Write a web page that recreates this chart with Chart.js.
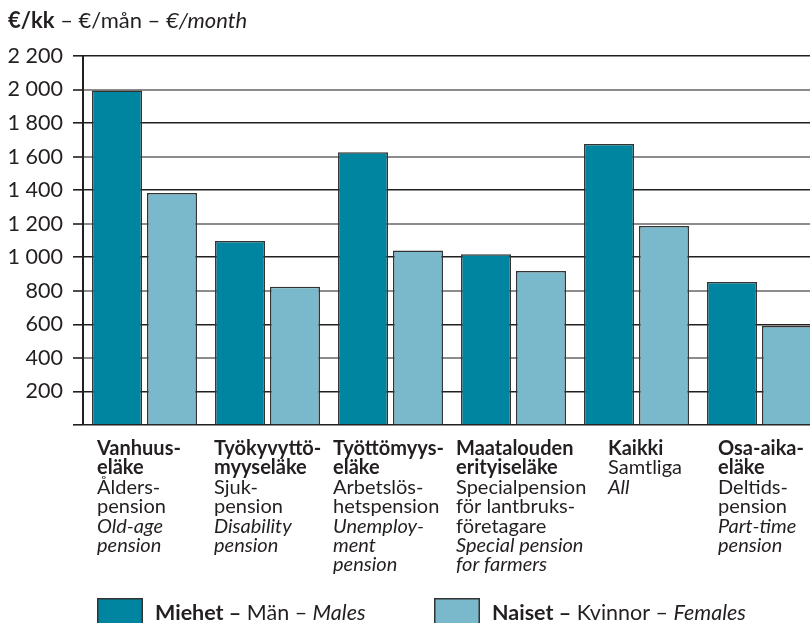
<!DOCTYPE html>
<html>
<head>
<meta charset="utf-8">
<script src="https://cdn.jsdelivr.net/npm/chart.js@4"></script>
<style>
  html, body { margin: 0; padding: 0; background: #fff; overflow: hidden; }
  #wrap { width: 821px; height: 623px; }
</style>
</head>
<body>
<div id="wrap"><canvas id="c" width="821" height="623"></canvas></div>
<script>
// ---- data ----
const categories = ["Vanhuuseläke", "Työkyvyttömyyseläke", "Työttömyyseläke", "Maatalouden erityiseläke", "Kaikki", "Osa-aikaeläke"];
const labelFi = [["Vanhuus-", "eläke"], ["Työkyvyttö-", "myyseläke"], ["Työttömyys-", "eläke"], ["Maatalouden", "erityiseläke"], ["Kaikki"], ["Osa-aika-", "eläke"]];
const labelSv = [["Ålders-", "pension"], ["Sjuk-", "pension"], ["Arbetslös-", "hetspension"], ["Specialpension", "för lantbruks-", "företagare"], ["Samtliga"], ["Deltids-", "pension"]];
const labelEn = [["Old-age", "pension"], ["Disability", "pension"], ["Unemploy-", "ment", "pension"], ["Special pension", "for farmers"], ["All"], ["Part-time", "pension"]];
const males = [1995, 1097, 1626, 1018, 1675, 853];
const females = [1383, 824, 1040, 918, 1187, 590];
const seriesFi = ["Miehet", "Naiset"];
const seriesSv = ["Män", "Kvinnor"];
const seriesEn = ["Males", "Females"];
const titleParts = ["€/kk", "€/mån", "€/month"];
const yMax = 2200;
const yStep = 200;

// ---- style ----
const FONT = "Lato, 'Open Sans', sans-serif";
const TXT = "#231f20";
const C_MALE = "#0085a1";
const C_FEMALE = "#7ab8cb";
const BORDER = "#333";

function drawRich(ctx, x, y, size, parts) {
  for (const [t, st] of parts) {
    ctx.font = st + " " + size + "px " + FONT;
    ctx.fillText(t, x, y);
    x += ctx.measureText(t).width;
  }
  return x;
}

const textPlugin = {
  id: 'richText',
  afterDraw(chart, args, opts) {
    const ctx = chart.ctx;
    const xs = chart.scales.x;
    ctx.save();
    ctx.fillStyle = TXT;
    ctx.textBaseline = 'alphabetic';
    ctx.textAlign = 'left';
    // title
    drawRich(ctx, 8, 28, 22, [[titleParts[0], 'bold'], [" – " + titleParts[1] + " – ", 'normal'], [titleParts[2], 'italic']]);
    // category labels
    const lh = 19.4;
    for (let i = 0; i < categories.length; i++) {
      const cx = xs.getPixelForValue(i);
      const x = cx + opts.labelShift[i];
      let y = 455;
      for (const l of labelFi[i]) { ctx.font = "bold 20px " + FONT; ctx.fillText(l, x, y); y += lh; }
      for (const l of labelSv[i]) { ctx.font = "normal 20px " + FONT; ctx.fillText(l, x, y); y += lh; }
      for (const l of labelEn[i]) { ctx.font = "italic 20px " + FONT; ctx.fillText(l, x, y); y += lh; }
    }
    // legend
    const ds = chart.data.datasets;
    const legX = opts.legendX;
    for (let i = 0; i < ds.length; i++) {
      const bx = legX[i];
      ctx.fillStyle = ds[i].backgroundColor;
      ctx.fillRect(bx, 598, 46, 30);
      ctx.strokeStyle = BORDER;
      ctx.lineWidth = 1.5;
      ctx.strokeRect(bx + 0.75, 598.75, 44.5, 30);
      ctx.fillStyle = TXT;
      drawRich(ctx, bx + 58, 620, 21.5, [[seriesFi[i] + " –", 'bold'], [" " + seriesSv[i] + " – ", 'normal'], [seriesEn[i], 'italic']]);
    }
    ctx.restore();
  }
};

const gridColor = (ctx) => {
  const v = ctx.tick ? ctx.tick.value : 0;
  return (v % 400 === 0 && v !== 0) ? "#8c8c8c" : "#231f20";
};
const gridWidth = (ctx) => {
  const v = ctx.tick ? ctx.tick.value : 0;
  return (v % 400 === 0 && v !== 0) ? 2 : 1.6;
};

new Chart(document.getElementById('c'), {
  type: 'bar',
  data: {
    labels: categories,
    datasets: [
      { label: seriesFi[0], data: males, backgroundColor: C_MALE, borderColor: BORDER, borderWidth: 1.5 },
      { label: seriesFi[1], data: females, backgroundColor: C_FEMALE, borderColor: BORDER, borderWidth: 1.5 }
    ]
  },
  options: {
    responsive: false,
    animation: false,
    devicePixelRatio: 1,
    layout: { padding: { top: 56, left: 0, right: 0, bottom: 0 } },
    datasets: { bar: { categoryPercentage: 0.894, barPercentage: 0.909 } },
    plugins: {
      legend: { display: false },
      tooltip: { enabled: false },
      richText: { labelShift: [-47.5, -53.5, -57.5, -57.5, -28.5, -41.5], legendX: [97, 434] }
    },
    scales: {
      x: {
        grid: { display: false },
        border: { display: false },
        ticks: { display: false },
        afterFit(scale) { scale.height = 198; }
      },
      y: {
        min: 0, max: yMax,
        afterFit(scale) { scale.width = 83; },
        ticks: {
          stepSize: yStep,
          padding: 10,
          color: TXT,
          font: { family: FONT, size: 21.5 },
          callback: (v) => v === 0 ? '' : v.toLocaleString('fi-FI').replace(/\s/g, ' ')
        },
        grid: {
          color: gridColor,
          lineWidth: gridWidth,
          tickColor: "#231f20",
          tickLength: 10,
          tickWidth: 1.6,
          drawTicks: true
        },
        border: { display: true, color: "#231f20", width: 2 }
      }
    }
  },
  plugins: [textPlugin]
});
</script>
</body>
</html>
